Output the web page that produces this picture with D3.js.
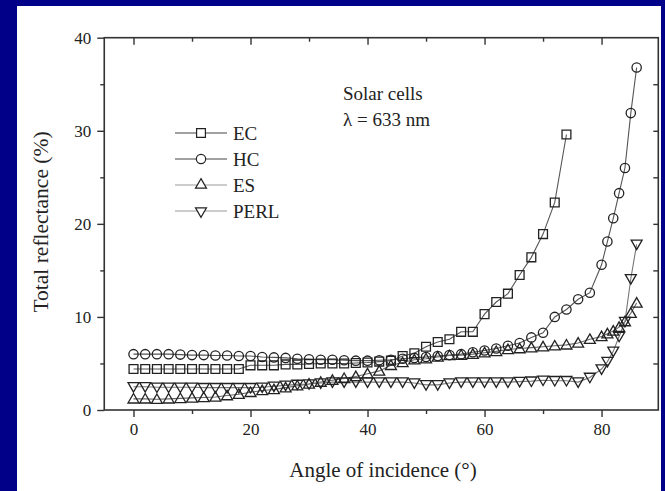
<!DOCTYPE html>
<html>
<head>
<meta charset="utf-8">
<script src="https://cdn.jsdelivr.net/npm/d3@7"></script>
<style>
  html, body { margin: 0; padding: 0; background: #000088; }
  svg { display: block; }
  text { font-family: "Liberation Serif", "Times New Roman", serif; fill: #222; }
</style>
</head>
<body>
<div id="chart"></div>
<script>
// angles (deg)
var anglesEC = [0, 2, 4, 6, 8, 10, 12, 14, 16, 18, 20, 22, 24, 26, 28, 30, 32, 34, 36, 38,
	40, 42, 44, 46, 48, 50, 52, 54, 56, 58, 60, 62, 64, 66, 68, 70, 72, 74];
var anglesOther = [0, 2, 4, 6, 8, 10, 12, 14, 16, 18, 20, 22, 24, 26, 28, 30, 32, 34, 36, 38,
	40, 42, 44, 46, 48, 50, 52, 54, 56, 58, 60, 62, 64, 66, 68, 70, 72, 74, 76, 78,
	80, 81, 82, 83, 84, 85, 86];

// total reflectance (%)
var valuesEC = [4.4, 4.4, 4.4, 4.4, 4.4, 4.4, 4.4, 4.4, 4.4, 4.4, 4.8, 4.8, 4.8, 4.9, 4.9, 4.95, 5.0, 5.0, 5.0, 5.05,
	5.1, 5.2, 5.3, 5.8, 6.1, 6.8, 7.3, 7.6, 8.4, 8.4, 10.3, 11.6, 12.5, 14.5, 16.4, 18.9, 22.3, 29.6];
var valuesHC = [6.0, 6.0, 6.0, 6.0, 5.95, 5.9, 5.9, 5.85, 5.85, 5.8, 5.8, 5.7, 5.65, 5.6, 5.5, 5.45, 5.4, 5.4, 5.35, 5.3,
	5.3, 5.35, 5.4, 5.5, 5.6, 5.7, 5.8, 5.9, 6.0, 6.2, 6.4, 6.6, 6.9, 7.2, 7.8, 8.3, 10.0, 10.8, 11.9, 12.6,
	15.6, 18.1, 20.6, 23.3, 26.0, 31.9, 36.8];
var valuesES = [1.2, 1.2, 1.15, 1.2, 1.25, 1.3, 1.35, 1.4, 1.55, 1.7, 1.9, 2.1, 2.2, 2.4, 2.6, 2.8, 3.0, 3.2, 3.4, 3.6,
	3.9, 4.2, 4.8, 5.1, 5.4, 5.5, 5.7, 5.85, 5.9, 6.0, 6.15, 6.3, 6.5, 6.6, 6.7, 6.8, 6.9, 7.0, 7.2, 7.6,
	7.9, 8.2, 8.5, 8.9, 9.5, 10.4, 11.5];
var valuesPERL = [2.5, 2.5, 2.45, 2.45, 2.45, 2.45, 2.4, 2.4, 2.4, 2.4, 2.4, 2.45, 2.55, 2.65, 2.75, 2.8, 2.9, 3.0, 3.0, 3.0,
	3.0, 3.0, 3.0, 3.0, 2.9, 2.7, 2.7, 2.9, 3.0, 3.0, 3.0, 3.0, 3.0, 3.05, 3.1, 3.2, 3.15, 3.15, 3.0, 3.5,
	4.4, 5.2, 6.3, 7.9, 9.5, 14.1, 17.8];

var seriesNames = ["EC", "HC", "ES", "PERL"];
var xTicks = [0, 20, 40, 60, 80];
var yTicks = [0, 10, 20, 30, 40];

function init() {
	var w = 665;
	var h = 491;

	var left = 104.25, right = 658.3, top = 37.7, bottom = 410;

	var svg = d3.select("#chart")
		.append("svg")
		.attr("width", w)
		.attr("height", h);

	// white panel on the blue slide
	svg.append("rect")
		.attr("x", 17).attr("y", 6)
		.attr("width", 644).attr("height", h - 6)
		.attr("fill", "#ffffff");

	var xScale = d3.scaleLinear().domain([-5, 89.7]).range([left, right]);
	var yScale = d3.scaleLinear().domain([0, 40]).range([bottom, top]);

	var axisColor = "#333";

	// bottom axis: labels on majors, ticks outward
	var xAxis = d3.axisBottom(xScale).tickValues(xTicks).tickSize(7).tickPadding(6);
	svg.append("g").attr("transform", "translate(0," + bottom + ")").call(xAxis);
	svg.append("g").attr("transform", "translate(0," + bottom + ")")
		.call(d3.axisBottom(xScale).tickValues([10, 30, 50, 70]).tickSize(4).tickFormat(""));

	var yAxis = d3.axisLeft(yScale).tickValues(yTicks).tickSize(7).tickPadding(6);
	svg.append("g").attr("transform", "translate(" + left + ",0)").call(yAxis);
	svg.append("g").attr("transform", "translate(" + left + ",0)")
		.call(d3.axisLeft(yScale).tickValues([5, 15, 25, 35]).tickSize(4).tickFormat(""));

	// top and right mirror ticks pointing inward
	svg.append("g").attr("transform", "translate(0," + top + ")")
		.call(d3.axisBottom(xScale).tickValues(xTicks).tickSize(7).tickFormat(""));
	svg.append("g").attr("transform", "translate(0," + top + ")")
		.call(d3.axisBottom(xScale).tickValues([10, 30, 50, 70]).tickSize(4).tickFormat(""));
	svg.append("g").attr("transform", "translate(" + right + ",0)")
		.call(d3.axisLeft(yScale).tickValues([5, 10, 15, 20, 25, 30, 35]).tickSize(-5).tickFormat(""))
		.selectAll("line").attr("x2", -5);

	svg.selectAll(".domain").remove();
	svg.selectAll(".tick line").attr("stroke", axisColor).attr("stroke-width", 1.4);
	svg.selectAll(".tick text")
		.attr("font-family", "Liberation Serif, serif")
		.attr("font-size", 17)
		.attr("fill", "#222");

	// frame
	svg.append("rect")
		.attr("x", left).attr("y", top)
		.attr("width", right - left).attr("height", bottom - top)
		.attr("fill", "none")
		.attr("stroke", axisColor)
		.attr("stroke-width", 1.6);

	var symbols = {
		EC: d3.symbol().type(d3.symbolSquare).size(78),
		HC: d3.symbol().type(d3.symbolCircle).size(68),
		ES: d3.symbol().type(d3.symbolTriangle).size(52),
		PERL: d3.symbol().type(d3.symbolTriangle).size(52)
	};
	var rotate = { EC: 0, HC: 0, ES: 0, PERL: 180 };
	var lineColor = { EC: "#555", HC: "#555", ES: "#666", PERL: "#777" };

	var data = {
		EC: anglesEC.map(function(a, i) { return [a, valuesEC[i]]; }),
		HC: anglesOther.map(function(a, i) { return [a, valuesHC[i]]; }),
		ES: anglesOther.map(function(a, i) { return [a, valuesES[i]]; }),
		PERL: anglesOther.map(function(a, i) { return [a, valuesPERL[i]]; })
	};

	var line = d3.line()
		.x(function(d) { return xScale(d[0]); })
		.y(function(d) { return yScale(d[1]); });

	seriesNames.forEach(function(name) {
		svg.append("path")
			.datum(data[name])
			.attr("d", line)
			.attr("fill", "none")
			.attr("stroke", lineColor[name])
			.attr("stroke-width", 1.1);
	});

	seriesNames.forEach(function(name) {
		svg.append("g").selectAll("path")
			.data(data[name])
			.enter()
			.append("path")
			.attr("d", symbols[name])
			.attr("transform", function(d) {
				var dy = name === "ES" ? 1 : (name === "PERL" ? -1 : 0);
				return "translate(" + xScale(d[0]) + "," + (yScale(d[1]) + dy) + ") rotate(" + rotate[name] + ")";
			})
			.attr("fill", "none")
			.attr("stroke", "#222")
			.attr("stroke-width", 1.3);
	});

	// legend
	var legendY = [133, 159, 185, 211];
	seriesNames.forEach(function(name, i) {
		var g = svg.append("g").attr("transform", "translate(0," + legendY[i] + ")");
		g.append("line")
			.attr("x1", 175).attr("x2", 227)
			.attr("stroke", i < 2 ? "#444" : "#999")
			.attr("stroke-width", 1.2);
		g.append("path")
			.attr("d", symbols[name])
			.attr("transform", "translate(201,0) rotate(" + rotate[name] + ")")
			.attr("fill", "#fff")
			.attr("stroke", "#222")
			.attr("stroke-width", 1.2);
		g.append("text")
			.attr("x", 233).attr("y", 6.5)
			.attr("font-size", 19)
			.text(name);
	});

	// annotation
	svg.append("text").attr("x", 343).attr("y", 100).attr("font-size", 19).text("Solar cells");
	svg.append("text").attr("x", 343).attr("y", 126).attr("font-size", 19).text("λ = 633 nm");

	// axis titles
	svg.append("text")
		.attr("x", 383).attr("y", 477)
		.attr("text-anchor", "middle")
		.attr("font-size", 21)
		.text("Angle of incidence (°)");
	svg.append("text")
		.attr("transform", "translate(48," + 222 + ") rotate(-90)")
		.attr("text-anchor", "middle")
		.attr("font-size", 21.5)
		.text("Total reflectance (%)");
}

window.onload = init;
</script>
</body>
</html>
